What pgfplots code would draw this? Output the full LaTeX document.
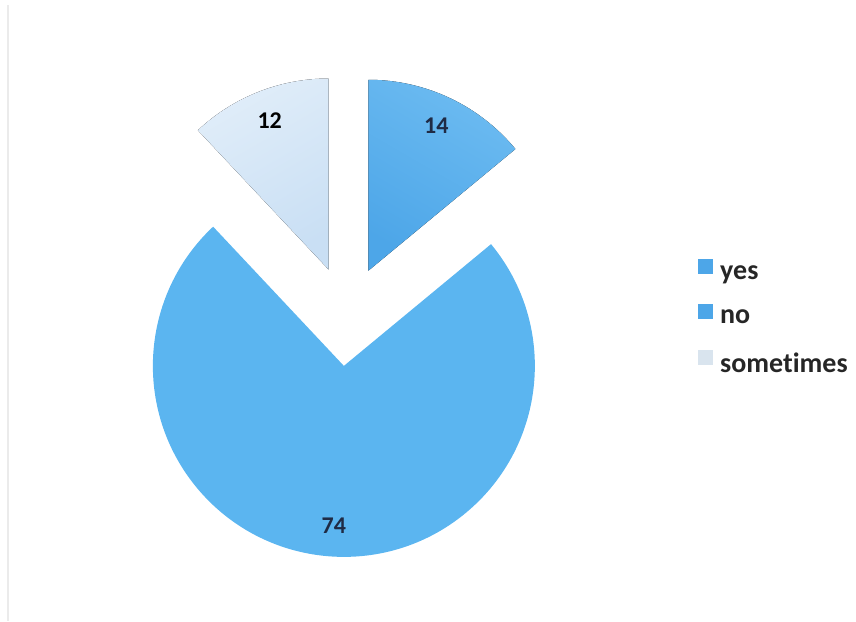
\documentclass[border=0pt]{standalone}
\usepackage{pgfplots}
\pgfplotsset{compat=1.18}
\usepackage{pgfplotstable}
\usepackage{fontspec}
\setmainfont{Carlito}[Ligatures=NoCommon]

\definecolor{yesblue}{HTML}{4DA6E8}
\definecolor{yesblueL}{HTML}{6CBBF1}
\definecolor{noblue}{HTML}{5BB5F0}
\definecolor{somblue}{HTML}{E0EDF9}
\definecolor{somblueD}{HTML}{C9DFF4}
\definecolor{somleg}{HTML}{D9E4EE}
\definecolor{lblcol}{HTML}{1F2B45}

\pgfplotstableread{
label value
yes 14
no 74
sometimes 12
}\piedata

\pgfplotstablegetelem{0}{value}\of\piedata \let\vYes\pgfplotsretval
\pgfplotstablegetelem{1}{value}\of\piedata \let\vNo\pgfplotsretval
\pgfplotstablegetelem{2}{value}\of\piedata \let\vSom\pgfplotsretval

% geometry (axis units = reference pixels)
\def\cx{347}\def\cy{305}\def\ex{50}\def\R{95.5pt}\def\ld{160}
\pgfmathsetmacro{\total}{\vYes+\vNo+\vSom}
\pgfmathsetmacro{\aA}{90}
\pgfmathsetmacro{\aB}{\aA-(360/\total)*\vYes}
\pgfmathsetmacro{\aC}{\aB-(360/\total)*\vNo}
\pgfmathsetmacro{\aD}{\aC-(360/\total)*\vSom}
\pgfmathsetmacro{\mYes}{(\aA+\aB)/2}
\pgfmathsetmacro{\mNo}{(\aB+\aC)/2}
\pgfmathsetmacro{\mSom}{(\aC+\aD)/2}
\pgfmathsetmacro{\vxYes}{\cx+\ex*cos(\mYes)}\pgfmathsetmacro{\vyYes}{\cy+\ex*sin(\mYes)}
\pgfmathsetmacro{\vxNo}{\cx+\ex*cos(\mNo)}\pgfmathsetmacro{\vyNo}{\cy+\ex*sin(\mNo)}
\pgfmathsetmacro{\vxSom}{\cx+\ex*cos(\mSom)}\pgfmathsetmacro{\vySom}{\cy+\ex*sin(\mSom)}
\pgfmathsetmacro{\lxYes}{\vxYes+\ld*cos(\mYes)}\pgfmathsetmacro{\lyYes}{\vyYes+\ld*sin(\mYes)}
\pgfmathsetmacro{\lxNo}{\vxNo+\ld*cos(\mNo)}\pgfmathsetmacro{\lyNo}{\vyNo+\ld*sin(\mNo)}
\pgfmathsetmacro{\lxSom}{\vxSom+\ld*cos(\mSom)}\pgfmathsetmacro{\lySom}{\vySom+\ld*sin(\mSom)}

\begin{document}
\begin{tikzpicture}
\useasboundingbox (0,0) rectangle (428pt,310.5pt);
\begin{axis}[at={(0,0)}, anchor=south west,
  x=0.5pt, y=0.5pt, xmin=0, xmax=856, ymin=0, ymax=621,
  hide axis, clip=false,
  legend cell align=left,
  legend style={at={(axis cs:698,362)}, anchor=north west, draw=none, fill=none,
    font=\bfseries\fontsize{14}{16}\selectfont, text=black!85, row sep=9pt, inner sep=0pt,
    /tikz/every odd column/.append style={column sep=1.5pt}}]
\draw[black!8, line width=1.2pt] (axis cs:8,0) -- (axis cs:8,616);
% slices
\fill[noblue] (axis cs:\vxNo,\vyNo) -- ++(\aB:\R) arc[start angle=\aB, end angle=\aC, radius=\R] -- cycle;
\fill[top color=yesblueL, bottom color=yesblue, shading angle=-30] (axis cs:\vxYes,\vyYes) -- ++(\aA:\R) arc[start angle=\aA, end angle=\aB, radius=\R] -- cycle;
\fill[top color=somblue, bottom color=somblueD, shading angle=30] (axis cs:\vxSom,\vySom) -- ++(\aC:\R) arc[start angle=\aC, end angle=\aD, radius=\R] -- cycle;
% data labels
\node[font=\bfseries\fontsize{12}{14}\selectfont, text=lblcol] at (axis cs:\lxYes,\lyYes) {\vYes};
\node[font=\bfseries\fontsize{12}{14}\selectfont, text=lblcol] at (axis cs:\lxNo,\lyNo) {\vNo};
\node[font=\bfseries\fontsize{12}{14}\selectfont, text=black] at (axis cs:\lxSom,\lySom) {\vSom};
% legend
\addlegendimage{legend image code/.code={\fill[yesblue] (0pt,0pt) rectangle (7pt,7pt);}}
\addlegendentry{yes}
\addlegendimage{legend image code/.code={\fill[yesblue] (0pt,0pt) rectangle (7pt,7pt);}}
\addlegendentry{no}
\addlegendimage{legend image code/.code={\fill[somleg] (0pt,0pt) rectangle (7pt,7pt);}}
\addlegendentry{sometimes}
\end{axis}
\end{tikzpicture}
\end{document}
